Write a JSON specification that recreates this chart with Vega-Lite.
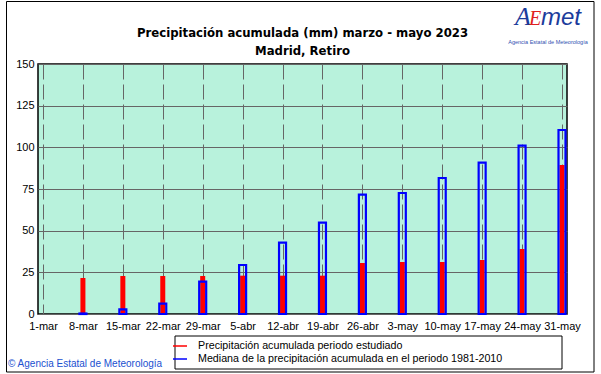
{
  "$schema": "https://vega.github.io/schema/vega-lite/v6.json",
  "width": 529,
  "height": 250,
  "autosize": {"type": "none"},
  "padding": {"left": 38, "top": 64, "right": 34, "bottom": 60},
  "background": "white",
  "config": {
    "locale": {
      "time": {
        "dateTime": "%A, %e de %B de %Y, %X",
        "date": "%d/%m/%Y",
        "time": "%H:%M:%S",
        "periods": ["AM", "PM"],
        "days": ["domingo", "lunes", "martes", "miércoles", "jueves", "viernes", "sábado"],
        "shortDays": ["dom", "lun", "mar", "mié", "jue", "vie", "sáb"],
        "months": ["enero", "febrero", "marzo", "abril", "mayo", "junio", "julio", "agosto", "septiembre", "octubre", "noviembre", "diciembre"],
        "shortMonths": ["ene", "feb", "mar", "abr", "may", "jun", "jul", "ago", "sep", "oct", "nov", "dic"]
      }
    },
    "view": {"fill": "#b8f2dc", "stroke": "black", "strokeWidth": 1.5},
    "font": "Liberation Sans",
    "axis": {
      "labelFont": "Liberation Sans",
      "labelFontSize": 11,
      "labelColor": "black",
      "domain": false,
      "ticks": false,
      "gridColor": "#666666",
      "gridOpacity": 1,
      "gridWidth": 1,
      "labelPadding": 4
    }
  },
  "title": {
    "text": ["Precipitación acumulada (mm) marzo - mayo 2023", "Madrid, Retiro"],
    "font": "DejaVu Sans Condensed, Liberation Sans Narrow, sans-serif",
    "fontSize": 13,
    "fontWeight": "bold",
    "lineHeight": 18.5,
    "anchor": "middle",
    "offset": -57,
    "color": "black"
  },
  "datasets": {
    "precip": [
      {"fecha": "2023-03-08", "tipo": "obs", "serie": "Precipitación acumulada periodo estudiado", "valor": 21.6},
      {"fecha": "2023-03-15", "tipo": "obs", "serie": "Precipitación acumulada periodo estudiado", "valor": 22.8},
      {"fecha": "2023-03-22", "tipo": "obs", "serie": "Precipitación acumulada periodo estudiado", "valor": 22.8},
      {"fecha": "2023-03-29", "tipo": "obs", "serie": "Precipitación acumulada periodo estudiado", "valor": 22.8},
      {"fecha": "2023-04-05", "tipo": "obs", "serie": "Precipitación acumulada periodo estudiado", "valor": 23.0},
      {"fecha": "2023-04-12", "tipo": "obs", "serie": "Precipitación acumulada periodo estudiado", "valor": 23.0},
      {"fecha": "2023-04-19", "tipo": "obs", "serie": "Precipitación acumulada periodo estudiado", "valor": 23.0},
      {"fecha": "2023-04-26", "tipo": "obs", "serie": "Precipitación acumulada periodo estudiado", "valor": 30.6},
      {"fecha": "2023-05-03", "tipo": "obs", "serie": "Precipitación acumulada periodo estudiado", "valor": 31.2},
      {"fecha": "2023-05-10", "tipo": "obs", "serie": "Precipitación acumulada periodo estudiado", "valor": 31.2},
      {"fecha": "2023-05-17", "tipo": "obs", "serie": "Precipitación acumulada periodo estudiado", "valor": 32.4},
      {"fecha": "2023-05-24", "tipo": "obs", "serie": "Precipitación acumulada periodo estudiado", "valor": 39.0},
      {"fecha": "2023-05-31", "tipo": "obs", "serie": "Precipitación acumulada periodo estudiado", "valor": 89.4},
      {"fecha": "2023-03-08", "tipo": "med", "serie": "Mediana de la precipitación acumulada en el periodo 1981-2010", "valor": 0.3},
      {"fecha": "2023-03-15", "tipo": "med", "serie": "Mediana de la precipitación acumulada en el periodo 1981-2010", "valor": 2.8},
      {"fecha": "2023-03-22", "tipo": "med", "serie": "Mediana de la precipitación acumulada en el periodo 1981-2010", "valor": 6.2},
      {"fecha": "2023-03-29", "tipo": "med", "serie": "Mediana de la precipitación acumulada en el periodo 1981-2010", "valor": 19.4},
      {"fecha": "2023-04-05", "tipo": "med", "serie": "Mediana de la precipitación acumulada en el periodo 1981-2010", "valor": 29.4},
      {"fecha": "2023-04-12", "tipo": "med", "serie": "Mediana de la precipitación acumulada en el periodo 1981-2010", "valor": 42.8},
      {"fecha": "2023-04-19", "tipo": "med", "serie": "Mediana de la precipitación acumulada en el periodo 1981-2010", "valor": 54.8},
      {"fecha": "2023-04-26", "tipo": "med", "serie": "Mediana de la precipitación acumulada en el periodo 1981-2010", "valor": 71.6},
      {"fecha": "2023-05-03", "tipo": "med", "serie": "Mediana de la precipitación acumulada en el periodo 1981-2010", "valor": 72.6},
      {"fecha": "2023-05-10", "tipo": "med", "serie": "Mediana de la precipitación acumulada en el periodo 1981-2010", "valor": 81.6},
      {"fecha": "2023-05-17", "tipo": "med", "serie": "Mediana de la precipitación acumulada en el periodo 1981-2010", "valor": 90.8},
      {"fecha": "2023-05-24", "tipo": "med", "serie": "Mediana de la precipitación acumulada en el periodo 1981-2010", "valor": 101.0},
      {"fecha": "2023-05-31", "tipo": "med", "serie": "Mediana de la precipitación acumulada en el periodo 1981-2010", "valor": 110.4}
    ]
  },
  "layer": [
    {
      "data": {"name": "precip"},
      "transform": [{"filter": {"field": "tipo", "equal": "obs"}}],
      "mark": {"type": "bar", "width": 5, "filled": true},
      "encoding": {
        "x": {
          "field": "fecha", "type": "temporal", "title": null,
          "scale": {"type": "utc", "nice": false, "domain": [{"year": 2023, "month": 3, "date": 1, "utc": true}, {"year": 2023, "month": 5, "date": 31, "utc": true}]},
          "axis": {
            "values": [
              {"year": 2023, "month": 3, "date": 1, "utc": true},
              {"year": 2023, "month": 3, "date": 8, "utc": true},
              {"year": 2023, "month": 3, "date": 15, "utc": true},
              {"year": 2023, "month": 3, "date": 22, "utc": true},
              {"year": 2023, "month": 3, "date": 29, "utc": true},
              {"year": 2023, "month": 4, "date": 5, "utc": true},
              {"year": 2023, "month": 4, "date": 12, "utc": true},
              {"year": 2023, "month": 4, "date": 19, "utc": true},
              {"year": 2023, "month": 4, "date": 26, "utc": true},
              {"year": 2023, "month": 5, "date": 3, "utc": true},
              {"year": 2023, "month": 5, "date": 10, "utc": true},
              {"year": 2023, "month": 5, "date": 17, "utc": true},
              {"year": 2023, "month": 5, "date": 24, "utc": true},
              {"year": 2023, "month": 5, "date": 31, "utc": true}
            ],
            "labelExpr": "utcFormat(datum.value, '%-d-%b')",
            "labelAngle": 0, "labelFlush": false, "labelOverlap": false, "labelBound": false,
            "labelPadding": 6,
            "grid": true, "gridDash": [15, 5]
          }
        },
        "y": {
          "field": "valor", "type": "quantitative", "title": null,
          "scale": {"domain": [0, 150], "nice": false, "zero": true},
          "axis": {"values": [0, 25, 50, 75, 100, 125, 150], "grid": true}
        },
        "color": {
          "field": "serie", "type": "nominal",
          "scale": {"domain": ["Precipitación acumulada periodo estudiado", "Mediana de la precipitación acumulada en el periodo 1981-2010"], "range": ["#ff0000", "#0000ff"]},
          "legend": {
            "orient": "none", "legendX": 134, "legendY": 274, "title": null,
            "symbolType": "stroke", "symbolSize": 196, "symbolStrokeWidth": 1.5,
            "labelFont": "Liberation Sans", "labelFontSize": 10.7, "labelColor": "black",
            "labelOffset": 10, "rowPadding": 0, "padding": 0, "labelLimit": 400,
            "encode": {"symbols": {"update": {"stroke": {"scale": "color", "field": "value"}, "fill": {"value": "transparent"}}}}
          }
        }
      }
    },
    {
      "data": {"name": "precip"},
      "transform": [{"filter": {"field": "tipo", "equal": "med"}}],
      "mark": {"type": "bar", "width": 7, "filled": false, "strokeWidth": 2.2},
      "encoding": {
        "x": {"field": "fecha", "type": "temporal"},
        "y": {"field": "valor", "type": "quantitative"},
        "color": {"field": "serie", "type": "nominal"}
      }
    },
    {
      "data": {"values": [{}]},
      "mark": {"type": "rect", "filled": false, "stroke": "black", "strokeWidth": 1, "clip": false, "xOffset": -36.5, "x2Offset": 32, "yOffset": -62.5, "y2Offset": 58},
      "encoding": {
        "x": {"datum": {"year": 2023, "month": 3, "date": 1, "utc": true}, "type": "temporal"},
        "x2": {"datum": {"year": 2023, "month": 5, "date": 31, "utc": true}},
        "y": {"datum": 150, "type": "quantitative"},
        "y2": {"datum": 0}
      }
    },
    {
      "data": {"values": [{}]},
      "mark": {"type": "rect", "filled": false, "stroke": "black", "strokeWidth": 1, "clip": false, "xOffset": 132, "x2Offset": 0, "yOffset": 22, "y2Offset": 55},
      "encoding": {
        "x": {"datum": {"year": 2023, "month": 3, "date": 1, "utc": true}, "type": "temporal"},
        "x2": {"datum": {"year": 2023, "month": 5, "date": 31, "utc": true}},
        "y": {"datum": 0, "type": "quantitative"},
        "y2": {"datum": 0}
      }
    },
    {
      "data": {"values": [{}]},
      "mark": {"type": "text", "text": "© Agencia Estatal de Meteorología", "align": "left", "baseline": "middle", "fontSize": 10, "color": "#2050d0", "dx": -35, "dy": 50, "clip": false},
      "encoding": {
        "x": {"datum": {"year": 2023, "month": 3, "date": 1, "utc": true}, "type": "temporal"},
        "y": {"datum": 0, "type": "quantitative"}
      }
    },
    {
      "data": {"values": [{}]},
      "mark": {"type": "text", "text": "A", "align": "left", "baseline": "alphabetic", "fontSize": 26, "fontStyle": "italic", "font": "Liberation Serif", "color": "#1c3c9c", "dx": -47, "dy": -39, "clip": false},
      "encoding": {
        "x": {"datum": {"year": 2023, "month": 5, "date": 31, "utc": true}, "type": "temporal"},
        "y": {"datum": 150, "type": "quantitative"}
      }
    },
    {
      "data": {"values": [{}]},
      "mark": {"type": "text", "text": "E", "align": "left", "baseline": "alphabetic", "fontSize": 20, "fontStyle": "italic", "font": "Liberation Serif", "color": "#e02020", "dx": -33, "dy": -39, "clip": false},
      "encoding": {
        "x": {"datum": {"year": 2023, "month": 5, "date": 31, "utc": true}, "type": "temporal"},
        "y": {"datum": 150, "type": "quantitative"}
      }
    },
    {
      "data": {"values": [{}]},
      "mark": {"type": "text", "text": "met", "align": "left", "baseline": "alphabetic", "fontSize": 24, "fontStyle": "italic", "font": "Liberation Sans", "color": "#1c3c9c", "dx": -21, "dy": -39, "clip": false},
      "encoding": {
        "x": {"datum": {"year": 2023, "month": 5, "date": 31, "utc": true}, "type": "temporal"},
        "y": {"datum": 150, "type": "quantitative"}
      }
    },
    {
      "data": {"values": [{}]},
      "mark": {"type": "text", "text": "Agencia Estatal de Meteorología", "align": "center", "baseline": "middle", "fontSize": 5.5, "color": "#3050b0", "dx": -14, "dy": -22, "clip": false},
      "encoding": {
        "x": {"datum": {"year": 2023, "month": 5, "date": 31, "utc": true}, "type": "temporal"},
        "y": {"datum": 150, "type": "quantitative"}
      }
    }
  ]
}
